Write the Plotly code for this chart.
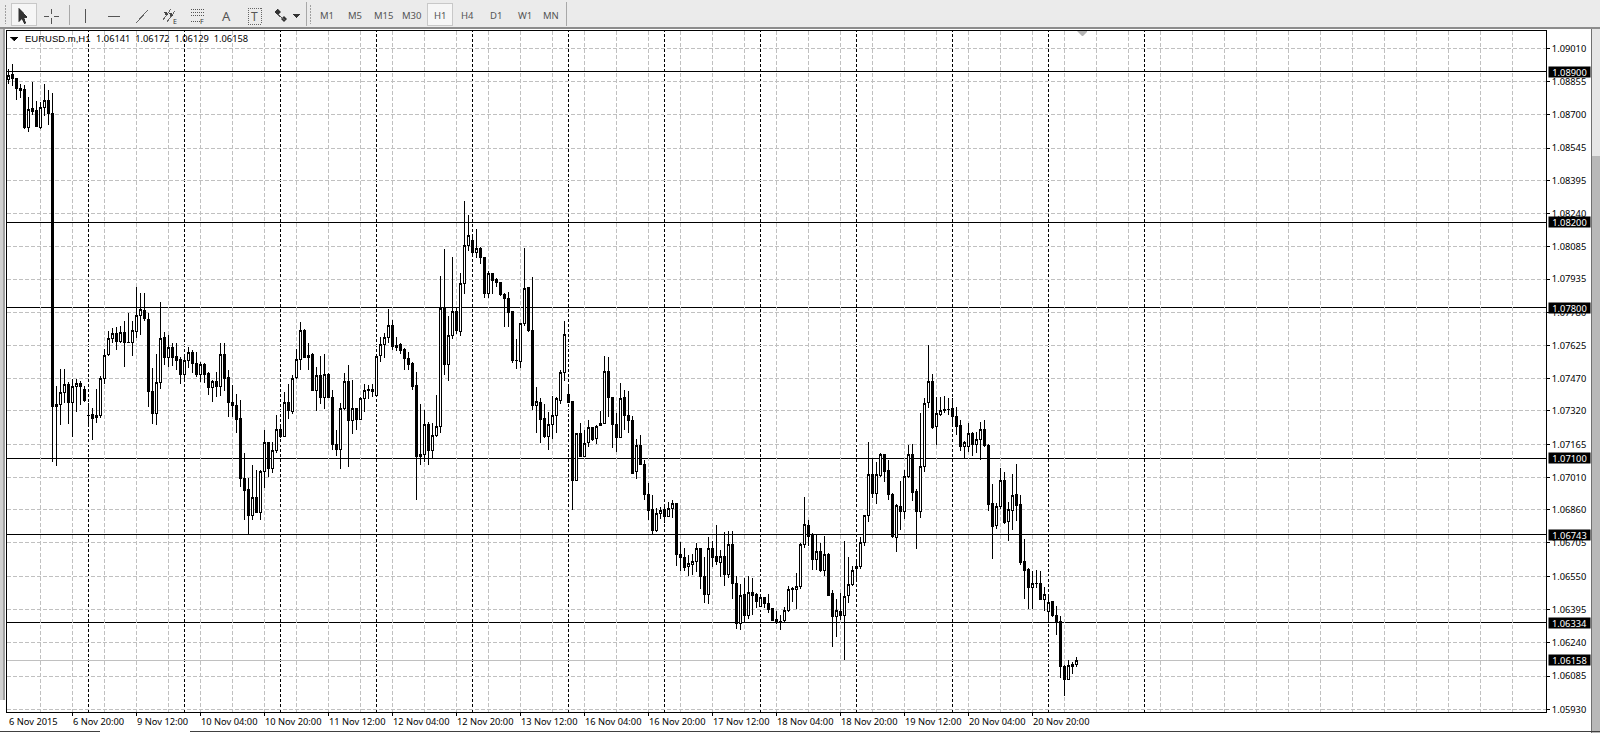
import plotly.graph_objects as go

# EURUSD.m H1 candles
opens = [
    1.08865, 1.08886, 1.08870, 1.08825, 1.08819, 1.08643, 1.08729, 1.08718, 1.08643, 1.08735, 1.08768, 1.08707,
    1.07340, 1.07350, 1.07405, 1.07444, 1.07359, 1.07433, 1.07449, 1.07418, 1.07301, 1.07303, 1.07291, 1.07298,
    1.07471, 1.07584, 1.07657, 1.07682, 1.07643, 1.07687, 1.07641, 1.07640, 1.07690, 1.07764, 1.07788, 1.07747,
    1.07412, 1.07309, 1.07454, 1.07663, 1.07570, 1.07617, 1.07576, 1.07558, 1.07489, 1.07555, 1.07593, 1.07542,
    1.07489, 1.07538, 1.07493, 1.07429, 1.07458, 1.07434, 1.07584, 1.07477, 1.07360, 1.07346, 1.07283, 1.07006,
    1.06952, 1.06835, 1.06918, 1.06846, 1.07037, 1.07174, 1.07053, 1.07136, 1.07232, 1.07201, 1.07361, 1.07317,
    1.07476, 1.07561, 1.07696, 1.07570, 1.07584, 1.07415, 1.07487, 1.07383, 1.07491, 1.07384, 1.07165, 1.07142,
    1.07333, 1.07459, 1.07275, 1.07330, 1.07282, 1.07379, 1.07418, 1.07421, 1.07393, 1.07578, 1.07629, 1.07664,
    1.07720, 1.07615, 1.07628, 1.07608, 1.07566, 1.07542, 1.07440, 1.07108, 1.07119, 1.07258, 1.07136, 1.07204,
    1.07247, 1.07797, 1.07536, 1.07671, 1.07782, 1.07690, 1.07915, 1.08092, 1.08115, 1.08058, 1.08078, 1.08036,
    1.07869, 1.07962, 1.07931, 1.07920, 1.07864, 1.07845, 1.07782, 1.07556, 1.07550, 1.07726, 1.07897, 1.07696,
    1.07345, 1.07361, 1.07286, 1.07201, 1.07255, 1.07300, 1.07368, 1.07500, 1.07398, 1.07365, 1.06997, 1.07216,
    1.07107, 1.07174, 1.07244, 1.07191, 1.07252, 1.07262, 1.07505, 1.07384, 1.07258, 1.07196, 1.07384, 1.07297,
    1.07276, 1.07037, 1.07161, 1.07073, 1.06932, 1.06859, 1.06765, 1.06842, 1.06859, 1.06828, 1.06865, 1.06890,
    1.06652, 1.06638, 1.06595, 1.06607, 1.06618, 1.06677, 1.06551, 1.06464, 1.06677, 1.06640, 1.06613, 1.06644,
    1.06560, 1.06700, 1.06517, 1.06331, 1.06463, 1.06369, 1.06475, 1.06463, 1.06408, 1.06452, 1.06424, 1.06401,
    1.06349, 1.06339, 1.06343, 1.06390, 1.06486, 1.06486, 1.06501, 1.06696, 1.06787, 1.06739, 1.06629, 1.06666,
    1.06579, 1.06653, 1.06470, 1.06361, 1.06388, 1.06366, 1.06459, 1.06511, 1.06585, 1.06594, 1.06706, 1.06832,
    1.07025, 1.06934, 1.07021, 1.07118, 1.07043, 1.06933, 1.06731, 1.06877, 1.06851, 1.07014, 1.07115, 1.06947,
    1.06854, 1.07062, 1.07358, 1.07459, 1.07247, 1.07303, 1.07327, 1.07328, 1.07332, 1.07296, 1.07253, 1.07153,
    1.07153, 1.07216, 1.07163, 1.07188, 1.07234, 1.07161, 1.06889, 1.06785, 1.06874, 1.06995, 1.06804, 1.06855,
    1.06933, 1.06882, 1.06621, 1.06583, 1.06497, 1.06518, 1.06517, 1.06442, 1.06385, 1.06433, 1.06369, 1.06341,
    1.06129, 1.06071, 1.06130, 1.06141,
]
highs = [
    1.08912, 1.08937, 1.08870, 1.08844, 1.08839, 1.08783, 1.08853, 1.08764, 1.08761, 1.08845, 1.08814, 1.08800,
    1.07437, 1.07514, 1.07514, 1.07457, 1.07468, 1.07468, 1.07461, 1.07437, 1.07356, 1.07333, 1.07421, 1.07485,
    1.07609, 1.07694, 1.07705, 1.07713, 1.07718, 1.07739, 1.07775, 1.07741, 1.07896, 1.07868, 1.07868, 1.07778,
    1.07519, 1.07584, 1.07826, 1.07687, 1.07673, 1.07635, 1.07635, 1.07572, 1.07572, 1.07618, 1.07604, 1.07595,
    1.07550, 1.07542, 1.07503, 1.07464, 1.07503, 1.07635, 1.07635, 1.07511, 1.07441, 1.07399, 1.07371, 1.07126,
    1.07006, 1.07068, 1.07045, 1.07045, 1.07231, 1.07177, 1.07177, 1.07302, 1.07247, 1.07407, 1.07446, 1.07488,
    1.07609, 1.07735, 1.07701, 1.07636, 1.07589, 1.07524, 1.07577, 1.07586, 1.07496, 1.07418, 1.07232, 1.07356,
    1.07496, 1.07533, 1.07465, 1.07333, 1.07387, 1.07445, 1.07442, 1.07446, 1.07578, 1.07667, 1.07682, 1.07796,
    1.07744, 1.07667, 1.07636, 1.07612, 1.07594, 1.07546, 1.07502, 1.07353, 1.07325, 1.07268, 1.07263, 1.07395,
    1.07949, 1.08074, 1.07763, 1.08036, 1.07806, 1.07965, 1.08299, 1.08234, 1.08139, 1.08167, 1.08086, 1.08039,
    1.07970, 1.07965, 1.07938, 1.07923, 1.07870, 1.07876, 1.07788, 1.07656, 1.07732, 1.08078, 1.07900, 1.07943,
    1.07431, 1.07379, 1.07353, 1.07317, 1.07390, 1.07387, 1.07511, 1.07739, 1.07446, 1.07368, 1.07219, 1.07265,
    1.07231, 1.07278, 1.07247, 1.07253, 1.07320, 1.07576, 1.07571, 1.07387, 1.07309, 1.07449, 1.07418, 1.07415,
    1.07298, 1.07188, 1.07210, 1.07092, 1.06983, 1.06929, 1.06866, 1.06874, 1.06882, 1.06897, 1.06905, 1.06893,
    1.06710, 1.06680, 1.06649, 1.06654, 1.06706, 1.06680, 1.06641, 1.06733, 1.06716, 1.06789, 1.06672, 1.06758,
    1.06761, 1.06761, 1.06551, 1.06514, 1.06540, 1.06551, 1.06543, 1.06470, 1.06463, 1.06455, 1.06466, 1.06404,
    1.06388, 1.06369, 1.06405, 1.06505, 1.06498, 1.06564, 1.06703, 1.06918, 1.06812, 1.06750, 1.06742, 1.06703,
    1.06739, 1.06656, 1.06486, 1.06442, 1.06470, 1.06716, 1.06638, 1.06598, 1.06618, 1.06734, 1.06835, 1.07175,
    1.07099, 1.07080, 1.07122, 1.07119, 1.07091, 1.06936, 1.06886, 1.06994, 1.07045, 1.07161, 1.07166, 1.06955,
    1.07309, 1.07379, 1.07627, 1.07492, 1.07383, 1.07386, 1.07390, 1.07379, 1.07379, 1.07337, 1.07278, 1.07180,
    1.07262, 1.07223, 1.07223, 1.07270, 1.07278, 1.07164, 1.06980, 1.06889, 1.07053, 1.07037, 1.06894, 1.07026,
    1.07073, 1.06928, 1.06722, 1.06587, 1.06576, 1.06579, 1.06574, 1.06498, 1.06461, 1.06436, 1.06411, 1.06365,
    1.06137, 1.06160, 1.06152, 1.06172,
]
lows = [
    1.08842, 1.08836, 1.08769, 1.08780, 1.08634, 1.08622, 1.08699, 1.08642, 1.08634, 1.08696, 1.08653, 1.07084,
    1.07065, 1.07255, 1.07356, 1.07260, 1.07201, 1.07317, 1.07348, 1.07360, 1.07260, 1.07185, 1.07266, 1.07286,
    1.07446, 1.07578, 1.07635, 1.07604, 1.07635, 1.07527, 1.07635, 1.07578, 1.07659, 1.07674, 1.07739, 1.07340,
    1.07260, 1.07255, 1.07424, 1.07534, 1.07524, 1.07530, 1.07511, 1.07447, 1.07455, 1.07522, 1.07496, 1.07480,
    1.07457, 1.07449, 1.07395, 1.07360, 1.07387, 1.07391, 1.07415, 1.07294, 1.07294, 1.07219, 1.06968, 1.06812,
    1.06742, 1.06812, 1.06843, 1.06812, 1.06960, 1.07011, 1.07033, 1.07123, 1.07193, 1.07198, 1.07283, 1.07306,
    1.07471, 1.07511, 1.07566, 1.07511, 1.07414, 1.07320, 1.07353, 1.07331, 1.07379, 1.07136, 1.07108, 1.07052,
    1.07325, 1.07061, 1.07213, 1.07232, 1.07278, 1.07313, 1.07376, 1.07387, 1.07390, 1.07546, 1.07569, 1.07639,
    1.07605, 1.07600, 1.07586, 1.07511, 1.07511, 1.07418, 1.06903, 1.07069, 1.07084, 1.07069, 1.07095, 1.07198,
    1.07216, 1.07488, 1.07462, 1.07656, 1.07679, 1.07671, 1.07865, 1.08066, 1.08043, 1.08032, 1.08005, 1.07845,
    1.07845, 1.07865, 1.07900, 1.07858, 1.07713, 1.07713, 1.07542, 1.07515, 1.07519, 1.07716, 1.07690, 1.07325,
    1.07219, 1.07170, 1.07193, 1.07136, 1.07189, 1.07219, 1.07352, 1.07461, 1.07356, 1.06859, 1.06995, 1.07104,
    1.07104, 1.07154, 1.07182, 1.07166, 1.07250, 1.07259, 1.07293, 1.07147, 1.07127, 1.07193, 1.07231, 1.07219,
    1.07026, 1.07005, 1.07067, 1.06905, 1.06812, 1.06742, 1.06758, 1.06818, 1.06800, 1.06824, 1.06821, 1.06598,
    1.06576, 1.06576, 1.06551, 1.06556, 1.06571, 1.06492, 1.06427, 1.06421, 1.06595, 1.06602, 1.06548, 1.06505,
    1.06540, 1.06444, 1.06304, 1.06300, 1.06331, 1.06351, 1.06369, 1.06400, 1.06405, 1.06400, 1.06377, 1.06343,
    1.06327, 1.06300, 1.06334, 1.06385, 1.06432, 1.06396, 1.06489, 1.06680, 1.06691, 1.06579, 1.06579, 1.06568,
    1.06553, 1.06459, 1.06222, 1.06268, 1.06346, 1.06160, 1.06427, 1.06504, 1.06532, 1.06582, 1.06691, 1.06802,
    1.06913, 1.06886, 1.07014, 1.06987, 1.06905, 1.06730, 1.06664, 1.06765, 1.06816, 1.07006, 1.06902, 1.06677,
    1.06820, 1.07037, 1.07334, 1.07236, 1.07161, 1.07296, 1.07312, 1.07301, 1.07257, 1.07208, 1.07135, 1.07094,
    1.07130, 1.07112, 1.07122, 1.07091, 1.07153, 1.06854, 1.06630, 1.06770, 1.06863, 1.06793, 1.06714, 1.06765,
    1.06807, 1.06602, 1.06444, 1.06397, 1.06397, 1.06493, 1.06439, 1.06389, 1.06338, 1.06361, 1.06276, 1.06077,
    1.05992, 1.06066, 1.06094, 1.06129,
]
closes = [
    1.08881, 1.08868, 1.08822, 1.08813, 1.08643, 1.08726, 1.08715, 1.08645, 1.08735, 1.08768, 1.08705, 1.07340,
    1.07351, 1.07407, 1.07444, 1.07359, 1.07435, 1.07449, 1.07433, 1.07367, 1.07300, 1.07286, 1.07300, 1.07472,
    1.07579, 1.07659, 1.07682, 1.07643, 1.07687, 1.07638, 1.07640, 1.07694, 1.07766, 1.07795, 1.07750, 1.07410,
    1.07309, 1.07454, 1.07659, 1.07570, 1.07618, 1.07570, 1.07555, 1.07489, 1.07556, 1.07593, 1.07541, 1.07489,
    1.07538, 1.07488, 1.07429, 1.07458, 1.07434, 1.07584, 1.07471, 1.07359, 1.07345, 1.07280, 1.07006, 1.06949,
    1.06835, 1.06918, 1.06846, 1.07040, 1.07174, 1.07050, 1.07135, 1.07235, 1.07201, 1.07361, 1.07322, 1.07473,
    1.07561, 1.07696, 1.07569, 1.07580, 1.07415, 1.07487, 1.07383, 1.07491, 1.07383, 1.07162, 1.07139, 1.07333,
    1.07459, 1.07275, 1.07333, 1.07282, 1.07379, 1.07417, 1.07417, 1.07410, 1.07574, 1.07631, 1.07664, 1.07720,
    1.07620, 1.07626, 1.07601, 1.07564, 1.07536, 1.07434, 1.07108, 1.07119, 1.07258, 1.07136, 1.07205, 1.07247,
    1.07797, 1.07535, 1.07670, 1.07782, 1.07695, 1.07915, 1.08092, 1.08139, 1.08058, 1.08077, 1.08035, 1.07869,
    1.07962, 1.07928, 1.07918, 1.07862, 1.07844, 1.07778, 1.07555, 1.07555, 1.07729, 1.07892, 1.07693, 1.07345,
    1.07364, 1.07282, 1.07201, 1.07255, 1.07300, 1.07376, 1.07500, 1.07677, 1.07359, 1.06995, 1.07216, 1.07107,
    1.07169, 1.07244, 1.07189, 1.07250, 1.07262, 1.07505, 1.07382, 1.07256, 1.07196, 1.07379, 1.07298, 1.07275,
    1.07031, 1.07160, 1.07070, 1.06929, 1.06856, 1.06765, 1.06843, 1.06857, 1.06828, 1.06866, 1.06890, 1.06650,
    1.06637, 1.06593, 1.06610, 1.06619, 1.06680, 1.06548, 1.06464, 1.06677, 1.06637, 1.06618, 1.06644, 1.06560,
    1.06699, 1.06515, 1.06331, 1.06461, 1.06369, 1.06473, 1.06458, 1.06430, 1.06452, 1.06421, 1.06396, 1.06346,
    1.06335, 1.06338, 1.06391, 1.06489, 1.06494, 1.06501, 1.06699, 1.06792, 1.06734, 1.06629, 1.06665, 1.06576,
    1.06652, 1.06462, 1.06361, 1.06389, 1.06366, 1.06455, 1.06512, 1.06576, 1.06594, 1.06708, 1.06832, 1.07025,
    1.06934, 1.07025, 1.07119, 1.07040, 1.06930, 1.06733, 1.06880, 1.06851, 1.07017, 1.07118, 1.06942, 1.06854,
    1.07063, 1.07355, 1.07459, 1.07245, 1.07306, 1.07323, 1.07320, 1.07327, 1.07293, 1.07250, 1.07153, 1.07174,
    1.07216, 1.07163, 1.07188, 1.07234, 1.07161, 1.06883, 1.06781, 1.06877, 1.06997, 1.06802, 1.06862, 1.06927,
    1.06879, 1.06613, 1.06579, 1.06497, 1.06517, 1.06517, 1.06442, 1.06466, 1.06428, 1.06366, 1.06337, 1.06129,
    1.06071, 1.06132, 1.06139, 1.06158,
]

price_ticks = [
    1.09010, 1.08855, 1.08700, 1.08545, 1.08395, 1.08240, 1.08085, 1.07935, 1.07780, 1.07625, 1.07470,
    1.07320, 1.07165, 1.07010, 1.06860, 1.06705, 1.06550, 1.06395, 1.06240, 1.06085, 1.05930,
]
time_labels = [
    "6 Nov 2015", "6 Nov 20:00", "9 Nov 12:00", "10 Nov 04:00", "10 Nov 20:00", "11 Nov 12:00",
    "12 Nov 04:00", "12 Nov 20:00", "13 Nov 12:00", "16 Nov 04:00", "16 Nov 20:00", "17 Nov 12:00",
    "18 Nov 04:00", "18 Nov 20:00", "19 Nov 12:00", "20 Nov 04:00", "20 Nov 20:00",
]
levels = [1.08900, 1.08200, 1.07800, 1.07100, 1.06743, 1.06334]
last_price = 1.06158
timeframes = ["M1", "M5", "M15", "M30", "H1", "H4", "D1", "W1", "MN"]
timeframe_x = [326.5, 355, 383.5, 411.5, 439.5, 467, 495.5, 524.5, 551]

W, H = 1600, 733
LEFT, RIGHT, TOP, BOTTOM = 7, 1546, 31, 712
FONT = "Noto Sans"
GRID = dict(showgrid=True, gridcolor="#c0c0c0", griddash="4px,2px", gridwidth=1)
bars = list(range(len(opens)))


def px(x):
    return (x - LEFT) / (RIGHT - LEFT)


def py(y):
    return (BOTTOM - y) / (BOTTOM - TOP)


def rect(x0, y0, x1, y1, fill, line=None, width=1):
    return dict(type="rect", xref="paper", yref="paper", x0=px(x0), x1=px(x1), y0=py(y0), y1=py(y1),
                fillcolor=fill, line=dict(color=line or fill, width=width if line else 0), layer="above")


def seg(x0, y0, x1, y1, color="#555555", width=1, dash="solid"):
    return dict(type="line", xref="paper", yref="paper", x0=px(x0), x1=px(x1), y0=py(y0), y1=py(y1),
                line=dict(color=color, width=width, dash=dash), layer="above")


def poly(points, fill="#333333", line=None):
    d = "M" + " L".join(f"{px(a):.6f},{py(b):.6f}" for a, b in points) + " Z"
    return dict(type="path", xref="paper", yref="paper", path=d, fillcolor=fill,
                line=dict(color=line or fill, width=0.5), layer="above")


def label(x, y, text, size=9.3, color="#000000", anchor="center", family=FONT):
    return dict(xref="paper", yref="paper", x=px(x), y=py(y), text=text, showarrow=False, xanchor=anchor,
                yanchor="middle", font=dict(family=family, size=size, color=color))


fig = go.Figure(
    go.Candlestick(
        x=bars, open=opens, high=highs, low=lows, close=closes,
        increasing=dict(line=dict(color="#000000", width=1), fillcolor="#ffffff"),
        decreasing=dict(line=dict(color="#000000", width=1), fillcolor="#000000"),
        whiskerwidth=0, hoverinfo="skip", showlegend=False,
    )
)

shapes = []
annotations = []

# day separators, every 24 bars from the first Monday midnight
for b in range(20, 285, 24):
    shapes.append(dict(type="line", xref="x", yref="paper", x0=b, x1=b, y0=0, y1=1, layer="below",
                       line=dict(color="#000000", width=1, dash="3px,2px")))

# horizontal levels and last price
for lv in levels:
    shapes.append(dict(type="line", xref="paper", yref="y", x0=0, x1=1, y0=lv, y1=lv, layer="below",
                       line=dict(color="#000000", width=1)))
shapes.append(dict(type="line", xref="paper", yref="y", x0=0, x1=1, y0=last_price, y1=last_price, layer="below",
                   line=dict(color="#c0c0c0", width=1)))

for lv in levels + [last_price]:
    annotations.append(dict(xref="paper", yref="y", x=px(1548), y=lv, text=f"{lv:.5f}", showarrow=False,
                            xanchor="left", yanchor="middle", width=41, height=10, bgcolor="#000000", borderpad=0,
                            font=dict(family=FONT, size=9.3, color="#ffffff")))

# time labels start at their tick instead of being centred on it
for i, t in enumerate(time_labels):
    annotations.append(dict(xref="x", yref="paper", x=i * 16, xshift=-2, y=py(721.3), text=t, showarrow=False,
                            xanchor="left", yanchor="middle", font=dict(family=FONT, size=9.3, color="#000000")))

# window frame
shapes += [
    rect(0, 28, 2.5, 700, "#d0d0d0"),
    rect(2.5, 28, 5, 700, "#a0a0a0"),
    rect(1591, 0, 1592, H, "#707070"),
    rect(1592, 0, 1600, 156, "#e6e6e6"),
    rect(1592, 156, 1600, H, "#b8b8b8"),
    rect(0, 731, 100, 732, "#404040"),
    rect(190, 731, 1600, 732, "#404040"),
]

# toolbar
shapes += [
    rect(0, 0, 1600, 27, "#ebebeb"),
    rect(0, 27, 1600, 28.5, "#8c8c8c"),
    rect(11.5, 3.5, 36, 25, "#f6f6f6", "#c8c8c8"),
    rect(427.5, 3.5, 452.5, 25, "#f6f6f6", "#c8c8c8"),
    seg(5, 5, 5, 24, "#a0a0a0", 1, "2px,1px"),
    seg(69, 5, 69, 25, "#a8a8a8"),
    seg(306, 2, 306, 26, "#a8a8a8"),
    seg(310, 5, 310, 24, "#a0a0a0", 1, "2px,1px"),
    seg(566.5, 2, 566.5, 26, "#a8a8a8"),
    poly([(19, 8), (19, 22), (22, 19), (24.5, 24), (26, 23), (24, 18), (27.5, 17.5)]),
    seg(51.5, 9, 51.5, 14, "#555555"), seg(51.5, 18, 51.5, 24, "#555555"),
    seg(44, 16, 49, 16, "#555555"), seg(54, 16, 59, 16, "#555555"),
    seg(85, 9, 85, 23, "#555555"),
    seg(108, 16, 120, 16, "#555555"),
    seg(136, 23, 148, 10, "#666666"),
    seg(163, 20, 171, 9, "#666666"), seg(167, 22, 175, 11, "#666666"),
    seg(165, 12, 167, 15, "#444444", 2), seg(170, 13, 172, 16, "#444444", 2),
    seg(191, 9, 204, 9, "#555555", 1, "1px,1px"), seg(191, 12, 204, 12, "#555555", 1, "1px,1px"),
    seg(191, 15, 204, 15, "#555555", 1, "1px,1px"), seg(191, 21, 200, 21, "#555555", 1, "1px,1px"),
    seg(248, 8, 261, 8, "#666666", 1, "1px,1px"), seg(248, 24, 261, 24, "#666666", 1, "1px,1px"),
    seg(248, 8, 248, 24, "#666666", 1, "1px,1px"), seg(261, 8, 261, 24, "#666666", 1, "1px,1px"),
    poly([(275, 12), (278, 9), (281, 12), (278, 15)]),
    poly([(281, 19), (284, 16), (287, 19), (284, 22)]),
    seg(277, 14, 285, 20, "#555555"),
    poly([(293, 14), (300, 14), (296.5, 18)]),
]
annotations += [
    label(226, 16, "A", 13, "#555555"),
    label(254.5, 16, "T", 12, "#555555"),
    label(175, 21.5, "E", 7, "#333333"),
    label(202, 21.5, "F", 7, "#333333"),
]
for name, x in zip(timeframes, timeframe_x):
    annotations.append(label(x, 15.5, name, 9.5, "#555555"))

# chart header and scroll marker
shapes += [
    poly([(10.5, 37), (18.5, 37), (14.5, 41)], "#000000"),
    poly([(1078, 31.5), (1087, 31.5), (1082.5, 36.5)], "#b4b4b4"),
]
annotations.append(label(23, 38.8, "EURUSD.m,H1", 9.5, "#000000", "left", "Liberation Sans"))
annotations.append(label(94, 38.8, "1.06141\u00a0\u00a01.06172\u00a0\u00a01.06129\u00a0\u00a01.06158", 9.3, "#000000", "left"))

fig.update_layout(
    width=W, height=H, autosize=False,
    margin=dict(l=LEFT, r=W - RIGHT, t=TOP, b=H - BOTTOM, pad=0),
    paper_bgcolor="#ffffff", plot_bgcolor="#ffffff",
    boxgap=0.5,
    shapes=shapes, annotations=annotations,
    xaxis=dict(
        range=[-0.375, 384.375], rangeslider=dict(visible=False), fixedrange=True,
        tickmode="array", tickvals=[i * 16 for i in range(1, len(time_labels))],
        ticktext=[""] * (len(time_labels) - 1), ticks="outside", ticklen=3, tickcolor="#000000", tickwidth=1,
        minor=dict(tickmode="array", tickvals=list(range(8, 384, 8)), ticks="", **GRID),
        showline=True, linecolor="#000000", linewidth=1, mirror=True, zeroline=False, **GRID,
    ),
    yaxis=dict(
        side="right", range=[1.059174, 1.090906], fixedrange=True,
        tickmode="array", tickvals=price_ticks, ticktext=[f"{v:.5f}" for v in price_ticks],
        ticks="outside", ticklen=3, tickcolor="#000000", tickwidth=1,
        tickfont=dict(family=FONT, size=9.3, color="#000000"),
        showline=True, linecolor="#000000", linewidth=1, mirror=True, zeroline=False, **GRID,
    ),
)

# drop the page margin and keep candles and level lines on whole pixels, as in the terminal
post = """
document.body.style.margin = '0';
document.querySelectorAll('.shapelayer path, .boxes path').forEach(function (p) {
    p.style.shapeRendering = 'crispEdges';
});
"""
fig.write_html("out.html", config=dict(displayModeBar=False), post_script=post)
